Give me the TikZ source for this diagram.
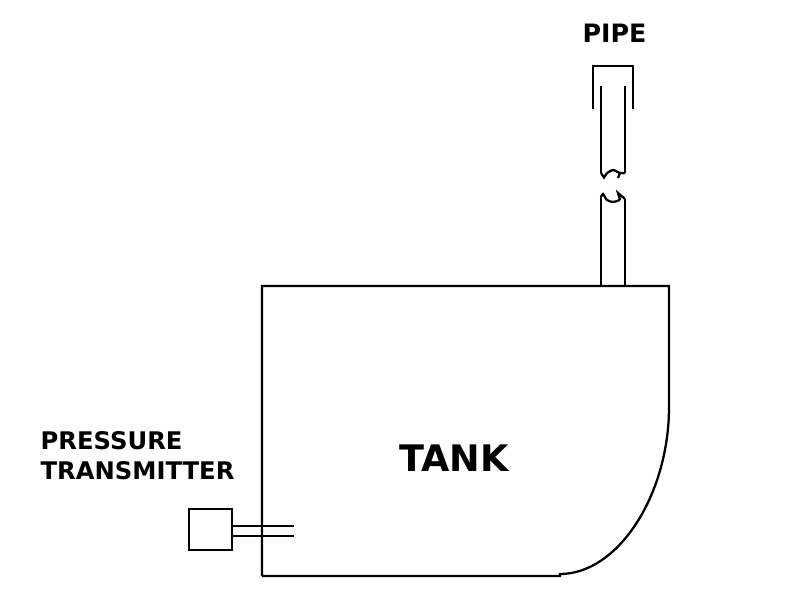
\documentclass[tikz,border=0pt]{standalone}
\usepackage{fontspec}
\setmainfont{DejaVu Sans}
\tikzset{
    wall/.style={line width=0.65pt,black},
    label/.style={inner sep=0pt,text=black},
}
\begin{document}
\begin{tikzpicture}
        \useasboundingbox (0,0) rectangle (7.99,5.99);

        \coordinate (tl) at (2.62,3.13);
        \coordinate (tr) at (6.69,3.13);
        \coordinate (bl) at (2.62,0.23);
        \coordinate (pl) at (6.01,3.13);
        \coordinate (pr) at (6.25,3.13);
        \coordinate (ul) at (6.01,4.26);
        \coordinate (ur) at (6.25,4.26);
        \coordinate (ll) at (6.01,4.02);
        \coordinate (lr) at (6.25,4.0);

        % tank body with the rounded corner
        \draw[wall] (bl)--(tl)--(tr)--(6.69,1.92) .. controls (6.69,1.04) and (6.18,0.25) .. (5.6,0.25)--(5.6,0.23)--(bl);

        % pipe, lower part up to the break
        \draw[wall] (pl)--(ll);
        \draw[wall] (pr)--(lr);
        \draw[wall] plot[smooth,tension=.4] coordinates {(ll) (6.03,4.05) (6.07,3.99) (6.13,3.97) (6.2,3.99)};
        \draw[wall] (6.2,3.99)--(6.18,4.06)--(lr);
        % pipe, upper part with its cap
        \draw[wall] (ul)--(6.01,5.13);
        \draw[wall] (ur)--(6.25,5.13);
        \draw[wall] plot[smooth,tension=.4] coordinates {(6.07,4.26) (6.13,4.29) (6.2,4.26) (ur)};
        \draw[wall] (ul)--(6.04,4.215)--(6.07,4.26);
        \draw[wall] (6.18,4.21)--(6.2,4.26);
        \draw[wall] (5.93,4.9)--(5.93,5.33)--(6.33,5.33)--(6.33,4.9);

        % transmitter and its two tapping lines
        \node[draw,wall,minimum width=0.43cm,minimum height=0.41cm,inner sep=0pt] (trans) at (2.105,0.695) {};
        \coordinate (ta) at (2.94,0.73);
        \coordinate (tb) at (2.94,0.63);
        \draw[wall] (trans.east |- ta)--(ta);
        \draw[wall] (trans.east |- tb)--(tb);

        \node[label,font=\bfseries\fontsize{10.4pt}{10.4pt}\selectfont,anchor=center] (tank) at (4.54,1.41) {TANK};
        \node[label,font=\bfseries\fontsize{6.9pt}{6.9pt}\selectfont,anchor=base west] (press) at (0.4,1.5) {PRESSURE};
        \node[label,font=\bfseries\fontsize{6.9pt}{6.9pt}\selectfont,anchor=base west] (tname) at (0.4,1.2) {TRANSMITTER};
        \node[label,font=\bfseries\fontsize{7.2pt}{7.2pt}\selectfont,anchor=center] (pipe) at (6.145,5.66) {PIPE};
\end{tikzpicture}
\end{document}
